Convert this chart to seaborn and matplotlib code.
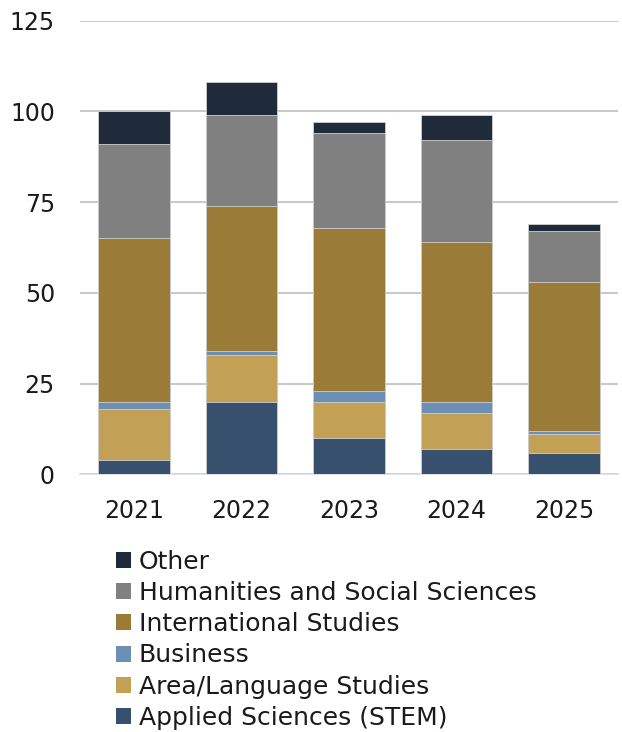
import numpy as np
import pandas as pd
import matplotlib
matplotlib.use("Agg")
import matplotlib.pyplot as plt
import seaborn as sns
from matplotlib.patches import Patch

sns.set_style("white")
plt.rcParams['font.family'] = ['DejaVu Sans']

# данные
years = ["2021", "2022", "2023", "2024", "2025"]
stem = [4, 20, 10, 7, 6]
area_lang = [14, 13, 10, 10, 5]
business = [2, 1, 3, 3, 1]
international = [45, 40, 45, 44, 41]
humanities = [26, 25, 26, 28, 14]
other = [9, 9, 3, 7, 2]

series_names = ["Applied Sciences (STEM)", "Area/Language Studies", "Business",
                "International Studies", "Humanities and Social Sciences", "Other"]
series_vals = [stem, area_lang, business, international, humanities, other]
colors = ["#36506E", "#C2A056", "#6B8FB5", "#9A7B37", "#808080", "#1F2A3A"]

df = pd.DataFrame(dict(zip(series_names, series_vals)), index=years)
cum = df.cumsum(axis=1)

fig = plt.figure(figsize=(6.22, 7.32), dpi=100)
ax = fig.add_axes([0.1286, 0.352, 0.865, 0.6197])

# накопленные суммы рисуем сверху вниз, чтобы получить стек
for name, color in reversed(list(zip(series_names, colors))):
    sns.barplot(x=years, y=cum[name].values, color=color, width=0.665,
                saturation=1, edgecolor="#D0D0D0", linewidth=0.6, ax=ax, zorder=3)

ax.set_ylim(0, 125)
ax.set_yticks([0, 25, 50, 75, 100, 125])
ax.yaxis.grid(True, color="#BFBFBF", linewidth=1.2, zorder=0)
ax.set_axisbelow(True)
for s in ["top", "right", "left"]:
    ax.spines[s].set_visible(False)
ax.spines["bottom"].set_color("#D6DCE5")
ax.spines["bottom"].set_linewidth(1.2)
ax.tick_params(axis="y", length=0, pad=18, labelsize=17, labelcolor="#1a1a1a")
ax.tick_params(axis="x", length=0, pad=18, labelsize=17, labelcolor="#1a1a1a")
ax.set_xlabel("")
ax.set_ylabel("")

handles = [Patch(facecolor=c, edgecolor="none") for c in reversed(colors)]
labels = list(reversed(series_names))
fig.legend(handles, labels, loc="upper left", bbox_to_anchor=(0.1865, 0.249),
           frameon=False, fontsize=18, handlelength=0.6, handleheight=0.6,
           handletextpad=0.3, labelspacing=0.29, borderpad=0, borderaxespad=0,
           labelcolor="#1a1a1a")

fig.savefig("out.png", dpi=100)
